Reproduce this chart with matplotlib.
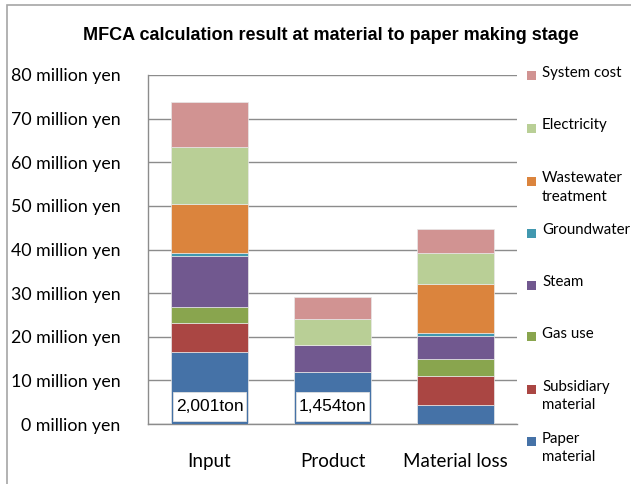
import numpy as np
import matplotlib
matplotlib.use("Agg")
import matplotlib.pyplot as plt
from matplotlib.patches import Rectangle

# categories and stacked series (million yen), bottom to top
categories = ["Input", "Product", "Material loss"]
series = ["Paper\nmaterial", "Subsidiary\nmaterial", "Gas use", "Steam",
          "Groundwater", "Wastewater\ntreatment", "Electricity", "System cost"]
paper = [16.4, 11.9, 4.4]
subsidiary = [6.8, 0.0, 6.7]
gas = [3.7, 0.0, 3.8]
steam = [11.5, 6.2, 5.2]
groundwater = [0.7, 0.0, 0.8]
wastewater = [11.3, 0.0, 11.3]
electricity = [13.0, 6.0, 7.0]
system_cost = [10.5, 5.0, 5.4]
values = [paper, subsidiary, gas, steam, groundwater, wastewater, electricity, system_cost]
colors = ["#4572A7", "#AA4643", "#89A54E", "#71588F",
          "#4198AF", "#DB843D", "#B9CF96", "#D19392"]

# tonnage labels on the bars
ton_labels = ["2,001ton", "1,454ton", None]
yticks = [0, 10, 20, 30, 40, 50, 60, 70, 80]
ytick_labels = [f"{v} million yen" for v in yticks]

W, H = 631, 484
fig = plt.figure(figsize=(W / 100, H / 100), dpi=100)
fig.patch.set_facecolor("white")

# outer chart frame (cropped on right and bottom)
fig.patches.append(Rectangle((7 / W, -0.1), 1.2, 1.1 - 5 / H, transform=fig.transFigure,
                             fill=False, edgecolor="#a6a6a6", linewidth=1.2))

ax = fig.add_axes([148 / W, (H - 424) / H, (517 - 148) / W, (424 - 75) / H])
x = np.arange(len(categories))
bottom = np.zeros(len(categories))
for vals, col in zip(values, colors):
    ax.bar(x, vals, width=0.63, bottom=bottom, color=col,
           edgecolor="#e8e8e8", linewidth=0.5, zorder=3)
    bottom += np.array(vals)

for i, lab in enumerate(ton_labels):
    if lab is None:
        continue
    ax.add_patch(Rectangle((i - 0.30, 0.7), 0.60, 6.7, facecolor="white",
                           edgecolor="#e0e0e0", linewidth=0.6, zorder=4))
    ax.text(i, 4.05, lab, ha="center", va="center", fontsize=12.5,
            family="Liberation Sans", zorder=5)

ax.set_xlim(-0.5, 2.5)
ax.set_ylim(0, 80)
ax.set_yticks(yticks)
ax.set_yticklabels(ytick_labels, family="Lato", fontsize=12.8)
ax.set_xticks(x)
ax.set_xticklabels(categories, family="Lato", fontsize=13.5)
ax.tick_params(axis="y", length=0, pad=20)
ax.tick_params(axis="x", length=0, pad=21)
ax.grid(axis="y", color="#8c8c8c", linewidth=1, zorder=0)
for s in ["top", "right"]:
    ax.spines[s].set_visible(False)
for s in ["left", "bottom"]:
    ax.spines[s].set_color("#8c8c8c")
    ax.spines[s].set_linewidth(1)

fig.text(331 / W, 1 - 35 / H, "MFCA calculation result at material to paper making stage",
         ha="center", va="center", fontsize=13, fontweight="bold", family="Liberation Sans")

# legend, top entry first
leg_y = [75, 128, 181, 233, 285, 336, 389, 441]
for k, (name, col) in enumerate(zip(series[::-1], colors[::-1])):
    yc = leg_y[k]
    fig.patches.append(Rectangle((527 / W, 1 - (yc + 4.5) / H), 9 / W, 9 / H,
                                 transform=fig.transFigure, facecolor=col, edgecolor="none"))
    fig.text(542 / W, 1 - (yc - 9.5) / H, name, ha="left", va="top", fontsize=10.8,
             family="Lato", linespacing=1.45)

fig.savefig("out.png", dpi=100)
